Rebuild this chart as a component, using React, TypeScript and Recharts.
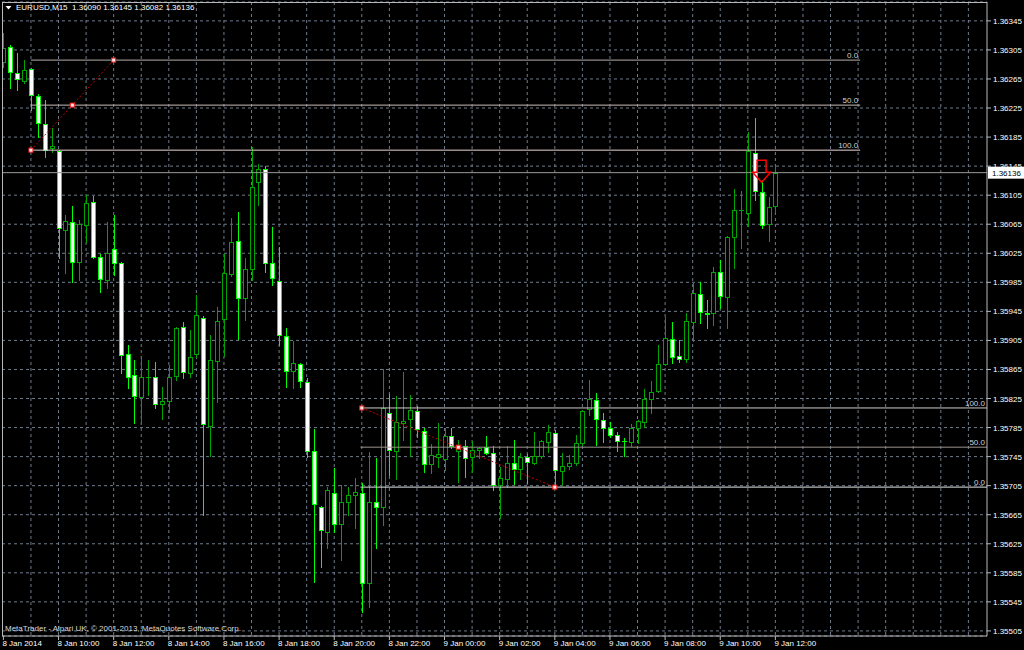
import React from "react";
import {
  ComposedChart,
  Bar,
  XAxis,
  YAxis,
  CartesianGrid,
  ReferenceLine,
  ReferenceDot,
} from "recharts";

// EURUSD M15, 8 Jan 2014 08:00 .. 9 Jan 2014 12:00 (one entry per bar)
const OPEN = [
  1.36288, 1.36309, 1.36273, 1.36262, 1.36279, 1.36242, 1.36203, 1.3617,
  1.36166, 1.36057, 1.36068, 1.36013, 1.36064, 1.36096, 1.3602, 1.35988,
  1.36031, 1.36012, 1.35886, 1.35857, 1.35827, 1.35854, 1.35855, 1.35817,
  1.35822, 1.35856, 1.35924, 1.3586, 1.35886, 1.35936, 1.35787, 1.35877,
  1.35935, 1.35996, 1.36042, 1.35964, 1.36003, 1.36123, 1.36141, 1.36012,
  1.35987, 1.35911, 1.35863, 1.35872, 1.35848, 1.35753, 1.35676, 1.35641,
  1.35695, 1.35652, 1.35683, 1.35692, 1.35695, 1.35571, 1.35683, 1.35676,
  1.35805, 1.35753, 1.35791, 1.35797, 1.35808, 1.3578, 1.35735, 1.35744,
  1.35742, 1.35773, 1.35753, 1.3576, 1.35744, 1.35754, 1.35758, 1.3575,
  1.35706, 1.35714, 1.35736, 1.35728, 1.35744, 1.35736, 1.35746, 1.35765,
  1.35778, 1.35725, 1.35732, 1.35736, 1.35764, 1.35811, 1.35823, 1.35795,
  1.35784, 1.35775, 1.35767, 1.35765, 1.35784, 1.35793, 1.35824, 1.35835,
  1.35872, 1.35907, 1.35884, 1.35879, 1.3593, 1.35969, 1.35943, 1.35943,
  1.35999, 1.35965, 1.36048, 1.36084, 1.36081, 1.36163, 1.3611, 1.36065,
  1.3609,
];
const HIGH = [
  1.36328, 1.36312, 1.36301, 1.36291, 1.3628, 1.36244, 1.36236, 1.36198,
  1.36167, 1.36078, 1.3609, 1.36071, 1.36105, 1.36104, 1.36024, 1.36068,
  1.36078, 1.36013, 1.35899, 1.35878, 1.35882, 1.35878, 1.35875, 1.35841,
  1.35871, 1.35924, 1.3593, 1.35919, 1.35968, 1.35939, 1.35912, 1.35951,
  1.36024, 1.36074, 1.36082, 1.36019, 1.36171, 1.36148, 1.36145, 1.36061,
  1.36034, 1.35922, 1.35904, 1.35874, 1.35853, 1.35783, 1.35677, 1.35703,
  1.35729, 1.35706, 1.35703, 1.35716, 1.35709, 1.35751, 1.35743, 1.35866,
  1.35831, 1.35828, 1.35862, 1.3583, 1.35815, 1.35784, 1.35762, 1.35791,
  1.35784, 1.35784, 1.35768, 1.35768, 1.35767, 1.35758, 1.35773, 1.3576,
  1.35731, 1.3576, 1.35768, 1.3575, 1.35749, 1.35779, 1.35768, 1.35789,
  1.35782, 1.3575, 1.35747, 1.35775, 1.35809, 1.35851, 1.35833, 1.35805,
  1.35793, 1.35779, 1.35771, 1.3579, 1.35795, 1.35838, 1.35849, 1.35899,
  1.35937, 1.3593, 1.35906, 1.35943, 1.35985, 1.35985, 1.35961, 1.36006,
  1.36016, 1.36049, 1.36114, 1.36111, 1.36192, 1.36211, 1.36126, 1.36103,
  1.36145,
];
const LOW = [
  1.36282, 1.36253, 1.3625, 1.3626, 1.36222, 1.36185, 1.36158, 1.36165,
  1.36019, 1.35998, 1.35985, 1.35988, 1.36041, 1.36019, 1.35972, 1.35977,
  1.35995, 1.3586, 1.3584, 1.35791, 1.35791, 1.3583, 1.35812, 1.35797,
  1.35806, 1.35851, 1.35853, 1.35855, 1.35882, 1.35665, 1.35746, 1.3582,
  1.35884, 1.35994, 1.35907, 1.35933, 1.35988, 1.36092, 1.35999, 1.35981,
  1.35899, 1.35841, 1.3584, 1.35841, 1.35744, 1.35572, 1.35593, 1.35619,
  1.35641, 1.35603, 1.35665, 1.35647, 1.35531, 1.35538, 1.35619, 1.35651,
  1.3572, 1.35714, 1.35768, 1.35746, 1.35772, 1.35724, 1.35723, 1.35731,
  1.35727, 1.35757, 1.3571, 1.35717, 1.35724, 1.35743, 1.35749, 1.35699,
  1.3566, 1.35703, 1.35707, 1.35714, 1.35709, 1.35735, 1.35743, 1.35751,
  1.35702, 1.35706, 1.35728, 1.35733, 1.35761, 1.35802, 1.35761, 1.35765,
  1.35772, 1.35753, 1.35746, 1.3576, 1.35764, 1.35786, 1.35805, 1.35834,
  1.35871, 1.35874, 1.35875, 1.35875, 1.35904, 1.35929, 1.35922, 1.35926,
  1.3595, 1.35922, 1.36005, 1.36032, 1.36063, 1.36098, 1.3606, 1.36042,
  1.36082,
];
const CLOSE = [
  1.36308, 1.36275, 1.36265, 1.36278, 1.36243, 1.36205, 1.36167, 1.36173,
  1.3606, 1.3607, 1.36013, 1.36065, 1.36094, 1.3602, 1.3599, 1.36025,
  1.36012, 1.35885, 1.35855, 1.35829, 1.35855, 1.35855, 1.35817, 1.35822,
  1.35855, 1.35922, 1.35862, 1.35882, 1.3594, 1.3579, 1.35878, 1.35932,
  1.35998, 1.36041, 1.35964, 1.36003, 1.36116, 1.36141, 1.36012, 1.35991,
  1.35912, 1.35863, 1.35874, 1.35849, 1.35753, 1.3568, 1.35644, 1.35699,
  1.35652, 1.35683, 1.35692, 1.35696, 1.35571, 1.35683, 1.35676, 1.35812,
  1.35754, 1.35793, 1.35794, 1.35809, 1.35783, 1.35735, 1.35747, 1.35749,
  1.35773, 1.3576, 1.3576, 1.35743, 1.35754, 1.35757, 1.3575, 1.35706,
  1.35716, 1.35736, 1.35728, 1.35744, 1.35738, 1.35746, 1.35767, 1.35779,
  1.35727, 1.35732, 1.35736, 1.35764, 1.35808, 1.35824, 1.35797, 1.35784,
  1.35775, 1.35767, 1.35766, 1.35784, 1.35794, 1.35824, 1.35834, 1.35872,
  1.35908, 1.35882, 1.35879, 1.35932, 1.3597, 1.35944, 1.35941, 1.35999,
  1.35966, 1.36048, 1.36085, 1.36085, 1.36166, 1.36111, 1.36064, 1.36089,
  1.36136,
];

// time axis: bar index -> label (every 2 hours)
const TIME_TICKS = [0, 8, 16, 24, 32, 40, 48, 56, 64, 72, 80, 88, 96, 104, 112];
const TIME_LABELS = [
  "8 Jan 2014", "8 Jan 10:00", "8 Jan 12:00", "8 Jan 14:00", "8 Jan 16:00",
  "8 Jan 18:00", "8 Jan 20:00", "8 Jan 22:00", "9 Jan 00:00", "9 Jan 02:00",
  "9 Jan 04:00", "9 Jan 06:00", "9 Jan 08:00", "9 Jan 10:00", "9 Jan 12:00",
];
// hourly grid lines
const HOUR_MARKS = [
  4, 8, 12, 16, 20, 24, 28, 32, 36, 40, 44, 48, 52, 56, 60, 64, 68, 72,
  76, 80, 84, 88, 92, 96, 100, 104, 108, 112, 116, 120, 124, 128, 132, 136, 140,
];
const PRICE_TICKS = [
  1.35505, 1.35545, 1.35585, 1.35625, 1.35665, 1.35705, 1.35745, 1.35785,
  1.35825, 1.35865, 1.35905, 1.35945, 1.35985, 1.36025, 1.36065, 1.36105,
  1.36145, 1.36185, 1.36225, 1.36265, 1.36305, 1.36345,
];

const X_DOMAIN: [number, number] = [-0.2, 142.7];
const Y_DOMAIN: [number, number] = [1.35498, 1.36371];

const BID = 1.36136;

// fibo #1 (upper left), fibo #2 (middle)
const FIB_A_LEVELS = [
  { name: "0.0", price: 1.36291, color: "#b8aeae" },
  { name: "50.0", price: 1.36229, color: "#c8bcb8" },
  { name: "100.0", price: 1.36167, color: "#ead6d6" },
];
const FIB_A_SPAN = [4, 124.3];
const FIB_A_POINTS = [
  { x: 4, y: 1.36167 },
  { x: 10, y: 1.36229 },
  { x: 16, y: 1.36291 },
];
const FIB_B_LEVELS = [
  { name: "100.0", price: 1.35812, color: "#d2cbcb" },
  { name: "50.0", price: 1.35758, color: "#9e948f" },
  { name: "0.0", price: 1.35703, color: "#e4e4e4" },
];
const FIB_B_SPAN = [51.8, 142.7];
const FIB_B_POINTS = [
  { x: 52, y: 1.35812 },
  { x: 66, y: 1.35758 },
  { x: 80, y: 1.35703 },
];
const SELL_ARROW = { x: 110, y: 1.36153 };

const FRAME = "#b8b8b8";
const GRID = "#6f7c8c";
const BULL = "#00a400";
const BEAR = "#00ff00";
const TEXT = "#ffffff";
const FONT = "'Liberation Sans', Arial, sans-serif";

const data = OPEN.map((o, i) => ({
  i,
  o,
  h: HIGH[i],
  l: LOW[i],
  c: CLOSE[i],
  range: [LOW[i], HIGH[i]],
}));

function Candle(props: any) {
  const { x, y, width, height, payload } = props;
  if (!payload || !isFinite(x) || !isFinite(y) || !isFinite(height)) return null;
  const { o, h, l, c } = payload;
  const top = Math.min(y, y + height);
  const bot = Math.max(y, y + height);
  const span = h - l || 1e-9;
  const at = (p: number) => top + ((h - p) / span) * (bot - top);
  const px = Math.round(x + width / 2);
  const yo = Math.round(at(o));
  const yc = Math.round(at(c));
  const up = c >= o;
  const color = up ? BULL : BEAR;
  const bt = Math.min(yo, yc);
  const bb = Math.max(yo, yc);
  return (
    <g>
      <line
        x1={px + 0.5}
        x2={px + 0.5}
        y1={Math.round(top)}
        y2={Math.round(bot) + 1}
        stroke={color}
        strokeWidth={1}
      />
      {bb - bt < 1 ? (
        <line x1={px - 2} x2={px + 3} y1={bt + 0.5} y2={bt + 0.5} stroke={color} strokeWidth={1} />
      ) : (
        <rect
          x={px - 1.5}
          y={bt + 0.5}
          width={4}
          height={bb - bt}
          fill={up ? "#000000" : "#ffffff"}
          stroke={color}
          strokeWidth={1}
        />
      )}
    </g>
  );
}

const TimeTick = (props: any) => {
  const { x, y, payload } = props;
  const idx = TIME_TICKS.indexOf(payload.value);
  return (
    <text x={x - 1} y={y + 4} fill={TEXT} fontSize={8} fontFamily={FONT} textAnchor="start">
      {idx >= 0 ? TIME_LABELS[idx] : ""}
    </text>
  );
};

const PriceTick = (props: any) => {
  const { x, y, payload } = props;
  return (
    <text x={x} y={y + 3} fill={TEXT} fontSize={8} fontFamily={FONT} textAnchor="start">
      {Number(payload.value).toFixed(5)}
    </text>
  );
};

const levelLabel = (name: string) => (props: any) => {
  const vb = props.viewBox || {};
  return (
    <text
      x={vb.x + vb.width - 2}
      y={vb.y - 2}
      fill="#d0d0d0"
      fontSize={8}
      fontFamily={FONT}
      textAnchor="end"
    >
      {name}
    </text>
  );
};

const bidTag = (props: any) => {
  const vb = props.viewBox || {};
  const right = vb.x + vb.width;
  return (
    <g>
      <rect x={right + 1} y={vb.y - 6} width={36} height={12} fill="#ffffff" />
      <text x={right + 5} y={vb.y + 3} fill="#000000" fontSize={8} fontFamily={FONT}>
        {BID.toFixed(5)}
      </text>
    </g>
  );
};

const AnchorSquare = (props: any) => {
  const { cx, cy } = props;
  if (!isFinite(cx) || !isFinite(cy)) return null;
  return <rect x={cx - 2} y={cy - 2} width={4} height={4} fill="#ffe8e8" stroke="#ff2020" strokeWidth={1} />;
};

const SellArrow = (props: any) => {
  const { cx, cy } = props;
  if (!isFinite(cx) || !isFinite(cy)) return null;
  const pts = [
    [cx - 4.5, cy],
    [cx + 4.5, cy],
    [cx + 4.5, cy + 12],
    [cx + 9, cy + 12],
    [cx, cy + 22],
    [cx - 9, cy + 12],
    [cx - 4.5, cy + 12],
  ]
    .map((p) => p.join(","))
    .join(" ");
  return <polygon points={pts} fill="none" stroke="#ff0000" strokeWidth={1.5} />;
};

const hourLines = ({ xAxis, offset }: any) =>
  HOUR_MARKS.map((v) => {
    const s = xAxis && typeof xAxis.scale === "function" ? xAxis.scale(v) : NaN;
    if (isFinite(s)) return s;
    return offset.left + ((v - X_DOMAIN[0]) / (X_DOMAIN[1] - X_DOMAIN[0])) * offset.width;
  });

export default function App() {
  const last = data[data.length - 1];
  return (
    <div
      style={{
        position: "absolute",
        left: 0,
        top: 0,
        width: 1024,
        height: 650,
        background: "#000000",
        overflow: "hidden",
      }}
    >
      <ComposedChart
        width={1024}
        height={650}
        data={data}
        margin={{ top: 2, right: 0, bottom: 0, left: 2 }}
      >
        <CartesianGrid
          stroke={GRID}
          strokeDasharray="3 3"
          verticalCoordinatesGenerator={hourLines}
        />
        <XAxis
          dataKey="i"
          type="number"
          domain={X_DOMAIN}
          ticks={TIME_TICKS}
          interval={0}
          allowDataOverflow
          height={14}
          tickSize={4}
          tickMargin={2}
          axisLine={{ stroke: FRAME }}
          tickLine={{ stroke: FRAME }}
          tick={<TimeTick />}
        />
        <YAxis
          orientation="right"
          type="number"
          domain={Y_DOMAIN}
          ticks={PRICE_TICKS}
          interval={0}
          allowDataOverflow
          width={37}
          tickSize={4}
          tickMargin={2}
          axisLine={{ stroke: FRAME }}
          tickLine={{ stroke: FRAME }}
          tick={<PriceTick />}
        />
        <Bar dataKey="range" barSize={5} shape={<Candle />} isAnimationActive={false} />

        <ReferenceLine y={BID} stroke="#9a9a9a" strokeWidth={1} label={bidTag} />

        {FIB_A_LEVELS.map((lv) => (
          <ReferenceLine
            key={"a" + lv.name}
            segment={[
              { x: FIB_A_SPAN[0], y: lv.price },
              { x: FIB_A_SPAN[1], y: lv.price },
            ]}
            stroke={lv.color}
            strokeWidth={1}
            label={levelLabel(lv.name)}
          />
        ))}
        {FIB_B_LEVELS.map((lv) => (
          <ReferenceLine
            key={"b" + lv.name}
            segment={[
              { x: FIB_B_SPAN[0], y: lv.price },
              { x: FIB_B_SPAN[1], y: lv.price },
            ]}
            stroke={lv.color}
            strokeWidth={1}
            label={levelLabel(lv.name)}
          />
        ))}

        <ReferenceLine
          segment={[FIB_A_POINTS[0], FIB_A_POINTS[2]]}
          stroke="#c00000"
          strokeDasharray="2 2"
        />
        <ReferenceLine
          segment={[FIB_B_POINTS[0], FIB_B_POINTS[2]]}
          stroke="#c00000"
          strokeDasharray="2 2"
        />
        {[...FIB_A_POINTS, ...FIB_B_POINTS].map((p, k) => (
          <ReferenceDot key={"p" + k} x={p.x} y={p.y} shape={<AnchorSquare />} />
        ))}
        <ReferenceDot x={SELL_ARROW.x} y={SELL_ARROW.y} shape={<SellArrow />} />
      </ComposedChart>

      {/* plot frame, top and left edges */}
      <div
        style={{
          position: "absolute",
          left: 2,
          top: 2,
          width: 985,
          height: 634,
          borderTop: `1px solid ${FRAME}`,
          borderLeft: `1px solid ${FRAME}`,
          boxSizing: "border-box",
          pointerEvents: "none",
        }}
      />

      <div
        style={{
          position: "absolute",
          left: 5,
          top: 3,
          color: TEXT,
          fontFamily: FONT,
          fontSize: 8,
          lineHeight: "10px",
          whiteSpace: "pre",
          display: "flex",
          alignItems: "center",
        }}
      >
        <svg width={8} height={6} style={{ marginRight: 3 }}>
          <polygon points="0.5,1 6.5,1 3.5,4.5" fill={TEXT} />
        </svg>
        {`EURUSD,M15  ${last.o.toFixed(5)} ${last.h.toFixed(5)} ${last.l.toFixed(5)} ${last.c.toFixed(5)}`}
      </div>

      <div
        style={{
          position: "absolute",
          left: 5,
          top: 624,
          color: "#d8d8d8",
          fontFamily: FONT,
          fontSize: 8,
          lineHeight: "10px",
          whiteSpace: "pre",
        }}
      >
        MetaTrader - Alpari UK, © 2001-2013, MetaQuotes Software Corp.
      </div>
    </div>
  );
}
